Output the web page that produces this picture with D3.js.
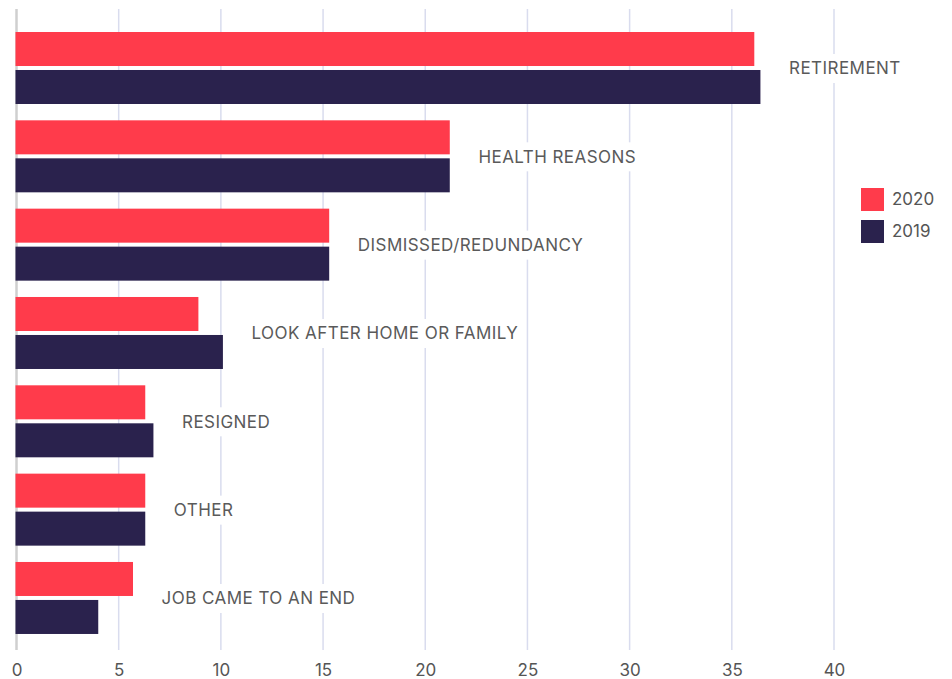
<!DOCTYPE html>
<html>
<head>
<meta charset="utf-8">
<script src="https://cdn.jsdelivr.net/npm/d3@7/dist/d3.min.js"></script>
<style>
  html, body { margin: 0; padding: 0; background: #fff; }
  svg { display: block; font-family: Inter, "Open Sans", sans-serif; }
</style>
</head>
<body>
<svg id="chart" width="952" height="679"></svg>
<script>
// Reasons for leaving last job (%)
const categories = [
  "RETIREMENT",
  "HEALTH REASONS",
  "DISMISSED/REDUNDANCY",
  "LOOK AFTER HOME OR FAMILY",
  "RESIGNED",
  "OTHER",
  "JOB CAME TO AN END"
];
const seriesNames = ["2020", "2019"];
const values2020 = [36.1, 21.2, 15.3, 8.9, 6.3, 6.3, 5.7];
const values2019 = [36.4, 21.2, 15.3, 10.1, 6.7, 6.3, 4.0];
const xTicks = [0, 5, 10, 15, 20, 25, 30, 35, 40];
const colors = ["#ff3b4b", "#2a224d"];

const svg = d3.select("#chart");
const plotTop = 9, plotBottom = 650;

const x = d3.scaleLinear().domain([0, 40]).range([16.5, 834]);
const y = d3.scaleBand().domain(categories).range([24, 642.3]).padding(0);
const yInner = d3.scaleBand().domain(seriesNames).range([8, 80]).paddingInner(0.105);

const rows = categories.map((c, i) => ({
  category: c,
  values: [values2020[i], values2019[i]]
}));

// vertical gridlines
svg.append("g")
  .selectAll("line")
  .data(xTicks.filter(t => t > 0))
  .join("line")
  .attr("x1", d => x(d)).attr("x2", d => x(d))
  .attr("y1", plotTop).attr("y2", plotBottom)
  .attr("stroke", "#d9dcee")
  .attr("stroke-width", 1.5);

// zero line
svg.append("line")
  .attr("x1", x(0)).attr("x2", x(0))
  .attr("y1", plotTop).attr("y2", plotBottom)
  .attr("stroke", "#cfcfcf")
  .attr("stroke-width", 2.5);

// bottom tick labels via axis
const axis = svg.append("g")
  .attr("transform", `translate(0,${plotBottom})`)
  .call(d3.axisBottom(x).tickValues(xTicks).tickSize(0).tickPadding(14).tickFormat(d3.format("d")));
axis.select(".domain").remove();
axis.selectAll("text")
  .attr("font-size", 17)
  .attr("font-family", "Inter, 'Open Sans', sans-serif")
  .attr("fill", "#555");

// bars
const groups = svg.append("g")
  .selectAll("g")
  .data(rows)
  .join("g")
  .attr("transform", d => `translate(0,${y(d.category)})`);

groups.selectAll("rect")
  .data(d => d.values.map((v, j) => ({ series: seriesNames[j], value: v, j })))
  .join("rect")
  .attr("x", x(0) - 1)
  .attr("y", d => yInner(d.series))
  .attr("width", d => x(d.value) - x(0) + 1)
  .attr("height", yInner.bandwidth())
  .attr("fill", d => colors[d.j]);

// category labels to the right of the bars, on a white backing
groups.each(function(d) {
  const g = d3.select(this);
  const maxV = d3.max(d.values);
  const lx = x(maxV + 1.4);
  const cy = 8 + 36.5;
  const t = g.append("text")
    .attr("x", lx)
    .attr("y", cy)
    .attr("dy", "0.35em")
    .attr("font-size", 17)
    .attr("letter-spacing", 0.45)
    .attr("fill", "#5a5a5a")
    .text(d.category);
  const bb = t.node().getBBox();
  g.insert("rect", "text")
    .attr("x", bb.x - 6)
    .attr("y", cy - 14.5)
    .attr("width", bb.width + 12)
    .attr("height", 29)
    .attr("fill", "#fff");
});

// legend
const legend = svg.append("g").attr("transform", "translate(861,188)");
const li = legend.selectAll("g")
  .data(seriesNames)
  .join("g")
  .attr("transform", (d, i) => `translate(0,${i * 32})`);
li.append("rect")
  .attr("width", 23).attr("height", 23)
  .attr("fill", (d, i) => colors[i]);
li.append("text")
  .attr("x", 31).attr("y", 11.5).attr("dy", "0.35em")
  .attr("font-size", 17)
  .attr("fill", "#555")
  .text(d => d);
</script>
</body>
</html>
